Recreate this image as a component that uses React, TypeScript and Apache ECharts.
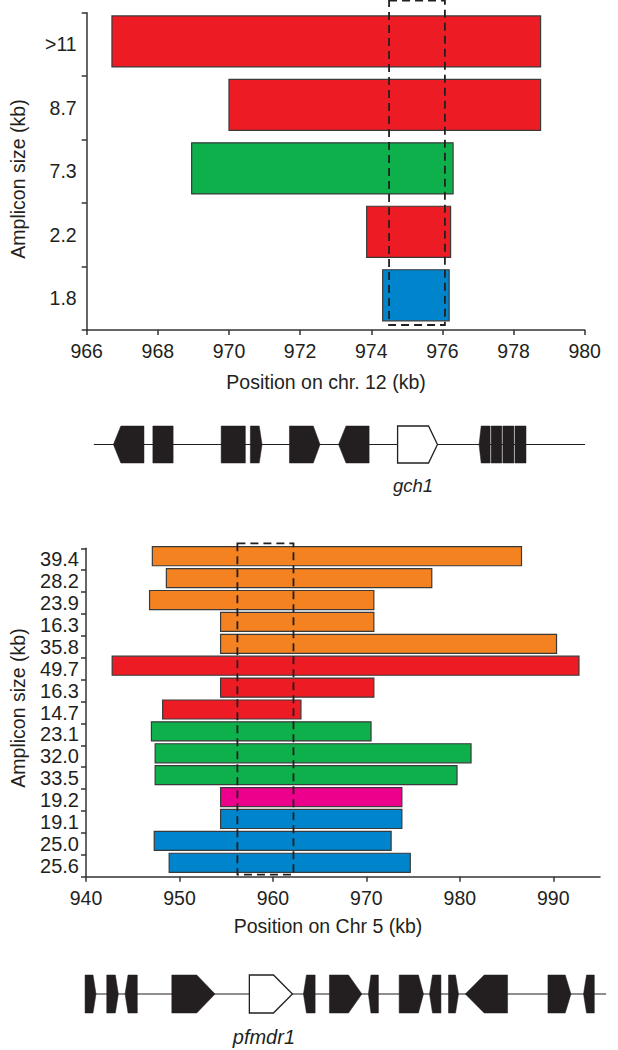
import React, { useEffect, useRef } from "react";
import * as echarts from "echarts";

const FONT = '"Liberation Sans", Arial, Helvetica, sans-serif';
const INK = "#231F20";

const GROUP_COLORS: Record<string, string> = {
  red: "#ED1C24",
  green: "#0DB04B",
  blue: "#0084CB",
  orange: "#F58220",
  magenta: "#EC008C",
};

// ---- Top panel (chr. 12, gch1) ----
const topCategories = [">11", "8.7", "7.3", "2.2", "1.8"];
const topStarts = [966.71, 970.0, 968.95, 973.87, 974.32];
const topEnds = [978.76, 978.76, 976.3, 976.23, 976.19];
const topGroups = ["red", "red", "green", "red", "blue"];
const topBox = [974.5, 976.07];
const topXTicks = [966, 968, 970, 972, 974, 976, 978, 980];

const topGeneStarts = [966.75, 967.86, 969.78, 970.6, 971.7, 973.08, 974.74, 977.03, 977.37, 977.7, 978.04];
const topGeneEnds = [967.61, 968.43, 970.46, 970.93, 972.56, 973.94, 975.86, 977.34, 977.67, 978.01, 978.35];
const topGeneStrand = [-1, 0, 0, 1, 1, -1, 1, -1, 0, 0, 0];
const topGeneTip = [0.21, 0, 0, 0.08, 0.19, 0.21, 0.25, 0.06, 0, 0, 0];
const topGeneNames = ["", "", "", "", "", "", "gch1", "", "", "", ""];
const topBackbone = [966.2, 980.01];

// ---- Bottom panel (chr 5, pfmdr1) ----
const bottomCategories = ["39.4", "28.2", "23.9", "16.3", "35.8", "49.7", "16.3", "14.7", "23.1", "32.0", "33.5", "19.2", "19.1", "25.0", "25.6"];
const bottomStarts = [947.1, 948.6, 946.8, 954.4, 954.4, 942.8, 954.4, 948.2, 947.0, 947.4, 947.4, 954.4, 954.4, 947.3, 948.9];
const bottomEnds = [986.6, 977.0, 970.8, 970.8, 990.35, 992.75, 970.8, 963.0, 970.5, 981.2, 979.7, 973.8, 973.8, 972.65, 974.7];
const bottomGroups = ["orange", "orange", "orange", "orange", "orange", "red", "red", "red", "green", "green", "green", "magenta", "blue", "blue", "blue"];
const bottomBox = [956.2, 962.2];
const bottomXTicks = [940, 950, 960, 970, 980, 990];

const bottomGeneStarts = [939.9, 942.22, 944.18, 949.18, 957.48, 963.27, 966.05, 970.22, 973.51, 976.76, 978.79, 980.58, 989.43, 993.24];
const bottomGeneEnds = [941.07, 943.46, 945.49, 953.81, 962.09, 964.52, 969.52, 971.29, 976.11, 977.98, 979.86, 985.11, 991.89, 994.39];
const bottomGeneStrand = [1, 1, -1, 1, 1, -1, 1, -1, 1, -1, 1, -1, 1, -1];
const bottomGeneTip = [0.32, 0.32, 0.32, 1.96, 2.03, 0.32, 1.43, 0.27, 0.54, 0.32, 0.32, 2.03, 0.61, 0.32];
const bottomGeneNames = ["", "", "", "", "pfmdr1", "", "", "", "", "", "", "", "", ""];
const bottomBackbone = [939.9, 995.66];

function barSeries(starts: number[], ends: number[], groups: string[], axisIdx: number, frac: number, offset: number) {
  return {
    type: "custom",
    xAxisIndex: axisIdx,
    yAxisIndex: axisIdx,
    clip: false,
    z: 2,
    encode: { x: [0, 1], y: 2 },
    data: starts.map((s, i) => [s, ends[i], i]),
    renderItem: (params: any, api: any) => {
      const s = api.value(0);
      const e = api.value(1);
      const idx = api.value(2);
      const p1 = api.coord([s, idx]);
      const p2 = api.coord([e, idx]);
      const band = api.size([0, 1])[1];
      const h = band * frac;
      return {
        type: "rect",
        shape: { x: p1[0], y: p1[1] - h / 2 + offset, width: p2[0] - p1[0], height: h },
        style: { fill: GROUP_COLORS[groups[params.dataIndex]], stroke: "#3a3a3a", lineWidth: 1.2 },
      };
    },
  };
}

function boxSeries(box: number[], axisIdx: number, topOff: number, botOff: number) {
  return {
    type: "custom",
    xAxisIndex: axisIdx,
    yAxisIndex: axisIdx,
    clip: false,
    z: 5,
    encode: { x: [0, 1] },
    data: [[box[0], box[1]]],
    renderItem: (params: any, api: any) => {
      const cs = params.coordSys;
      const x1 = api.coord([api.value(0), 0])[0];
      const x2 = api.coord([api.value(1), 0])[0];
      return {
        type: "rect",
        shape: { x: x1, y: cs.y + topOff, width: x2 - x1, height: cs.height - topOff + botOff },
        style: { fill: "none", stroke: INK, lineWidth: 1.8, lineDash: [8, 5] },
      };
    },
  };
}

function backboneSeries(bb: number[], axisIdx: number) {
  return {
    type: "custom",
    xAxisIndex: axisIdx,
    yAxisIndex: axisIdx,
    clip: false,
    z: 1,
    encode: { x: [0, 1] },
    data: [[bb[0], bb[1]]],
    renderItem: (params: any, api: any) => {
      const cs = params.coordSys;
      const x1 = api.coord([api.value(0), 0])[0];
      const x2 = api.coord([api.value(1), 0])[0];
      const cy = cs.y + cs.height / 2;
      return {
        type: "line",
        shape: { x1, y1: cy, x2, y2: cy },
        style: { stroke: INK, lineWidth: 1.2 },
      };
    },
  };
}

function geneSeries(
  starts: number[], ends: number[], strand: number[], tip: number[], names: string[],
  axisIdx: number, labelSize: number, labelDx: number, labelDy: number
) {
  return {
    type: "custom",
    xAxisIndex: axisIdx,
    yAxisIndex: axisIdx,
    clip: false,
    z: 3,
    encode: { x: [0, 1] },
    data: starts.map((s, i) => [s, ends[i], strand[i], tip[i]]),
    renderItem: (params: any, api: any) => {
      const cs = params.coordSys;
      const i = params.dataIndex;
      const x1 = api.coord([api.value(0), 0])[0];
      const x2 = api.coord([api.value(1), 0])[0];
      const dir = api.value(2);
      const t = api.size([api.value(3), 0])[0];
      const top = cs.y;
      const bot = cs.y + cs.height;
      const cy = cs.y + cs.height / 2;
      let pts: number[][];
      if (dir > 0) pts = [[x1, top], [x2 - t, top], [x2, cy], [x2 - t, bot], [x1, bot]];
      else if (dir < 0) pts = [[x1, cy], [x1 + t, top], [x2, top], [x2, bot], [x1 + t, bot]];
      else pts = [[x1, top], [x2, top], [x2, bot], [x1, bot]];
      const named = names[i] !== "";
      const children: any[] = [
        {
          type: "polygon",
          shape: { points: pts },
          style: named ? { fill: "#ffffff", stroke: INK, lineWidth: 1.3 } : { fill: INK, stroke: INK, lineWidth: 0.5 },
        },
      ];
      if (named) {
        children.push({
          type: "text",
          x: (x1 + x2) / 2 + labelDx,
          y: cy + labelDy,
          style: {
            text: names[i],
            fill: INK,
            font: `italic ${labelSize}px ${FONT}`,
            align: "center",
            verticalAlign: "middle",
          },
        });
      }
      return { type: "group", children };
    },
  };
}

const axisLineStyle = { color: "#333333", width: 1.5 };

function App() {
  const ref = useRef<HTMLDivElement>(null);

  useEffect(() => {
    const chart = echarts.init(ref.current!, null, { renderer: "svg" });
    const option: any = {
      animation: false,
      backgroundColor: "#ffffff",
      grid: [
        { left: 86.7, top: 12.7, width: 498, height: 317.3 },
        { left: 86.7, top: 426, width: 498, height: 37 },
        { left: 86, top: 548.3, width: 514, height: 328.4 },
        { left: 86, top: 975, width: 514, height: 38 },
      ],
      xAxis: [
        {
          gridIndex: 0,
          type: "value",
          min: 966,
          max: 980,
          interval: 2,
          axisLine: { show: true, lineStyle: axisLineStyle },
          axisTick: { show: true, length: 5, lineStyle: axisLineStyle, customValues: topXTicks },
          axisLabel: { color: INK, fontSize: 19.5, fontFamily: FONT, margin: 11, customValues: topXTicks },
          splitLine: { show: false },
        },
        { gridIndex: 1, type: "value", min: 966, max: 980, show: false },
        {
          gridIndex: 2,
          type: "value",
          min: 940,
          max: 995,
          interval: 10,
          axisLine: { show: true, lineStyle: axisLineStyle },
          axisTick: { show: true, length: 5, lineStyle: axisLineStyle, customValues: bottomXTicks },
          axisLabel: { color: INK, fontSize: 19.5, fontFamily: FONT, margin: 11, customValues: bottomXTicks },
          splitLine: { show: false },
        },
        { gridIndex: 3, type: "value", min: 940, max: 995, show: false },
      ],
      yAxis: [
        {
          gridIndex: 0,
          type: "category",
          inverse: true,
          data: topCategories,
          axisLine: { show: true, lineStyle: axisLineStyle },
          axisTick: { show: true, length: 5, lineStyle: axisLineStyle },
          axisLabel: { color: INK, fontSize: 19.5, fontFamily: FONT, margin: 10 },
        },
        { gridIndex: 1, type: "value", min: 0, max: 1, show: false },
        {
          gridIndex: 2,
          type: "category",
          inverse: true,
          data: bottomCategories,
          axisLine: { show: true, lineStyle: axisLineStyle },
          axisTick: { show: true, length: 5, lineStyle: axisLineStyle },
          axisLabel: { color: INK, fontSize: 20, fontFamily: FONT, margin: 7, interval: 0 },
        },
        { gridIndex: 3, type: "value", min: 0, max: 1, show: false },
      ],
      graphic: [
        {
          type: "text",
          x: 18,
          y: 179,
          rotation: Math.PI / 2,
          style: { text: "Amplicon size (kb)", fill: INK, font: `19.5px ${FONT}`, align: "center", verticalAlign: "middle" },
        },
        {
          type: "text",
          x: 326,
          y: 382,
          style: { text: "Position on chr. 12 (kb)", fill: INK, font: `19.5px ${FONT}`, align: "center", verticalAlign: "middle" },
        },
        {
          type: "text",
          x: 18,
          y: 708,
          rotation: Math.PI / 2,
          style: { text: "Amplicon size (kb)", fill: INK, font: `19.5px ${FONT}`, align: "center", verticalAlign: "middle" },
        },
        {
          type: "text",
          x: 328,
          y: 926,
          style: { text: "Position on Chr 5 (kb)", fill: INK, font: `19.5px ${FONT}`, align: "center", verticalAlign: "middle" },
        },
      ],
      series: [
        barSeries(topStarts, topEnds, topGroups, 0, 0.805, -3),
        boxSeries(topBox, 0, -12, -5),
        backboneSeries(topBackbone, 1),
        geneSeries(topGeneStarts, topGeneEnds, topGeneStrand, topGeneTip, topGeneNames, 1, 18.5, -4.5, 41),
        barSeries(bottomStarts, bottomEnds, bottomGroups, 2, 0.87, -3),
        boxSeries(bottomBox, 2, -5, -2),
        backboneSeries(bottomBackbone, 3),
        geneSeries(bottomGeneStarts, bottomGeneEnds, bottomGeneStrand, bottomGeneTip, bottomGeneNames, 3, 20, -7, 43),
      ],
    };
    chart.setOption(option);
    return () => chart.dispose();
  }, []);

  return <div ref={ref} style={{ position: "absolute", left: 0, top: 0, width: 618, height: 1050 }} />;
}

export default App;
